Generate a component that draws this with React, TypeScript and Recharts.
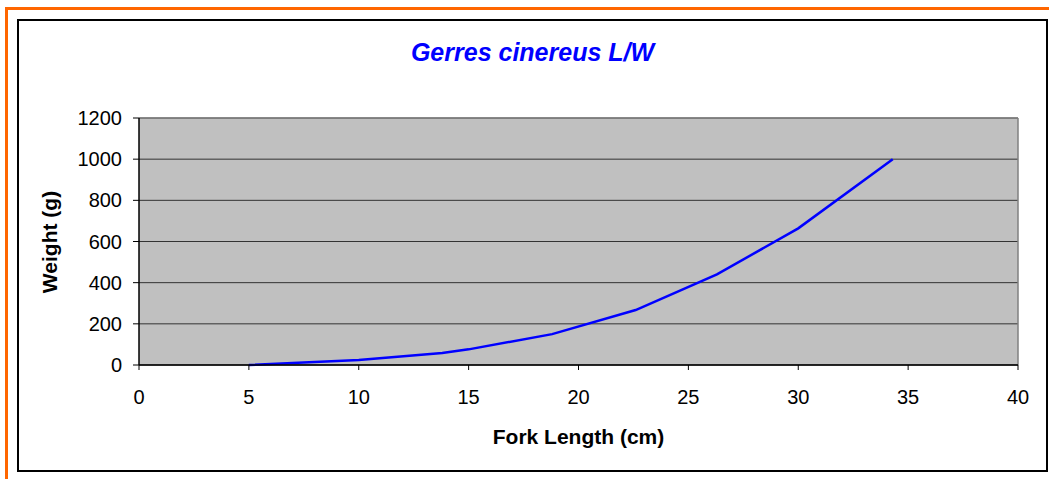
import React from "react";
import {
  LineChart,
  Line,
  XAxis,
  YAxis,
  CartesianGrid,
  ReferenceLine,
} from "recharts";

// Fork length (cm) vs weight (g)
const lengths = [5, 10, 13.8, 15, 18.8, 22.6, 26.3, 30, 34.3];
const weights = [0, 24, 58, 76, 150, 267, 440, 664, 1000];

const xTicks = [0, 5, 10, 15, 20, 25, 30, 35, 40];
const yTicks = [0, 200, 400, 600, 800, 1000, 1200];

const data = lengths.map((x, i) => ({ x, w: weights[i] }));

const FONT = "'Liberation Sans', Arial, Helvetica, sans-serif";

export default function App() {
  return (
    <div
      style={{
        position: "absolute",
        left: 0,
        top: 0,
        width: 1049,
        height: 479,
        overflow: "hidden",
        background: "#fff",
        fontFamily: FONT,
      }}
    >
      {/* orange outer frame */}
      <div
        style={{
          position: "absolute",
          left: 5,
          top: 7,
          width: 1100,
          height: 520,
          border: "3px solid #FF6600",
        }}
      />
      {/* black chart frame */}
      <div
        style={{
          position: "absolute",
          left: 17,
          top: 19,
          width: 1027,
          height: 449,
          border: "2px solid #000",
        }}
      />
      <div
        style={{
          position: "absolute",
          left: 17,
          width: 1031,
          top: 36,
          textAlign: "center",
          color: "#0000FF",
          fontSize: 25,
          fontWeight: "bold",
          fontStyle: "italic",
          lineHeight: "32px",
        }}
      >
        Gerres cinereus L/W
      </div>
      <div
        style={{
          position: "absolute",
          left: 139,
          width: 879,
          top: 424,
          textAlign: "center",
          fontSize: 21,
          fontWeight: "bold",
          lineHeight: "26px",
        }}
      >
        Fork Length (cm)
      </div>
      <div
        style={{
          position: "absolute",
          left: 50,
          top: 242,
          transform: "translate(-50%, -50%) rotate(-90deg)",
          whiteSpace: "nowrap",
          fontSize: 21,
          fontWeight: "bold",
          lineHeight: "26px",
        }}
      >
        Weight (g)
      </div>
      <div style={{ position: "absolute", left: 0, top: 0 }}>
        <LineChart
          width={1049}
          height={479}
          data={data}
          margin={{ top: 118, right: 31, bottom: 84, left: 29 }}
        >
          <CartesianGrid
            vertical={false}
            fill="#C0C0C0"
            stroke="#1a1a1a"
            strokeOpacity={0.85}
          />
          <ReferenceLine y={1200} stroke="#808080" strokeWidth={1.5} />
          <ReferenceLine x={40} stroke="#808080" strokeWidth={1.5} />
          <XAxis
            dataKey="x"
            type="number"
            domain={[0, 40]}
            ticks={xTicks}
            height={30}
            axisLine={{ stroke: "#000", strokeWidth: 1.5 }}
            tickLine={{ stroke: "#000" }}
            tickSize={5}
            tickMargin={20}
            tick={{ fill: "#000", fontSize: 20, fontFamily: FONT }}
          />
          <YAxis
            type="number"
            domain={[0, 1200]}
            ticks={yTicks}
            width={110}
            axisLine={{ stroke: "#000", strokeWidth: 1.5 }}
            tickLine={{ stroke: "#000" }}
            tickSize={6}
            tickMargin={11}
            tick={{ fill: "#000", fontSize: 20, fontFamily: FONT }}
          />
          <Line
            type="linear"
            dataKey="w"
            stroke="#0000FF"
            strokeWidth={2.5}
            dot={false}
            isAnimationActive={false}
          />
        </LineChart>
      </div>
    </div>
  );
}
